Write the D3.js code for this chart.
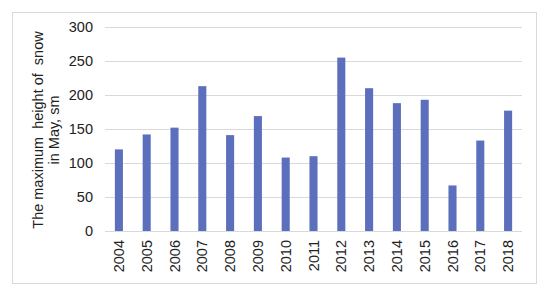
<!DOCTYPE html>
<html>
<head>
<meta charset="utf-8">
<script src="https://cdn.jsdelivr.net/npm/d3@7"></script>
<style>
  body { margin: 0; background: #fff; }
  svg text { font-family: "Liberation Sans", Arial, sans-serif; fill: #222; }
</style>
</head>
<body>
<div id="chart"></div>
<script>
// Chart data
var years = ['2004', '2005', '2006', '2007', '2008', '2009', '2010', '2011',
             '2012', '2013', '2014', '2015', '2016', '2017', '2018'];
var snowHeight = [120, 142, 152, 213, 141, 169, 108, 110, 255, 210, 188, 193, 67, 133, 177];
var yTicks = [0, 50, 100, 150, 200, 250, 300];

var width = 550, height = 298;
var margins = { left: 105, right: 28, top: 27, bottom: 67 };
var innerW = width - margins.left - margins.right;
var innerH = height - margins.top - margins.bottom;

var svg = d3.select('#chart').append('svg')
            .attr('width', width)
            .attr('height', height);

// outer frame
svg.append('rect')
   .attr('x', 12.5).attr('y', 12.5)
   .attr('width', 524).attr('height', 271)
   .style('fill', 'none')
   .style('stroke', '#d9d9d9');

var x = d3.scaleBand().domain(years).range([0, innerW]).paddingInner(0.71).paddingOuter(0.355);
var y = d3.scaleLinear().domain([0, 300]).range([innerH, 0]);

var g = svg.append('g')
           .attr('transform', 'translate(' + margins.left + ',' + margins.top + ')');

// grid + y labels
var yAxis = d3.axisLeft(y)
              .tickValues(yTicks)
              .tickSizeInner(-innerW)
              .tickSizeOuter(0)
              .tickPadding(12);
var ya = g.append('g').call(yAxis);
ya.select('.domain').remove();
ya.selectAll('.tick line').style('stroke', '#d9d9d9');
ya.selectAll('.tick text').style('font-size', '14.5px');

// bars
g.selectAll('rect.bar')
 .data(snowHeight)
 .enter()
 .append('rect')
 .attr('class', 'bar')
 .attr('x', function(d, i) { return x(years[i]); })
 .attr('width', x.bandwidth())
 .attr('y', function(d) { return y(d); })
 .attr('height', function(d) { return innerH - y(d); })
 .style('fill', '#5b6fbd');

// x labels, rotated
var xAxis = d3.axisBottom(x).tickSize(0).tickPadding(0);
var xa = g.append('g')
          .attr('transform', 'translate(0,' + innerH + ')')
          .call(xAxis);
xa.select('.domain').remove();
xa.selectAll('.tick text')
  .style('font-size', '14.5px')
  .attr('text-anchor', 'end')
  .attr('transform', 'rotate(-90)')
  .attr('x', -9)
  .attr('y', 0)
  .attr('dy', '0.35em');

// y axis title (keeps the double spaces of the original)
var title = svg.append('text')
               .attr('transform', 'translate(43,130) rotate(-90)')
               .attr('text-anchor', 'middle')
               .style('white-space', 'pre')
               .style('font-size', '14.5px');
title.append('tspan').attr('x', 0).attr('dy', 0).text('The maximum  height of  snow');
title.append('tspan').attr('x', 0).attr('dy', 16).text('in May, sm');
</script>
</body>
</html>
